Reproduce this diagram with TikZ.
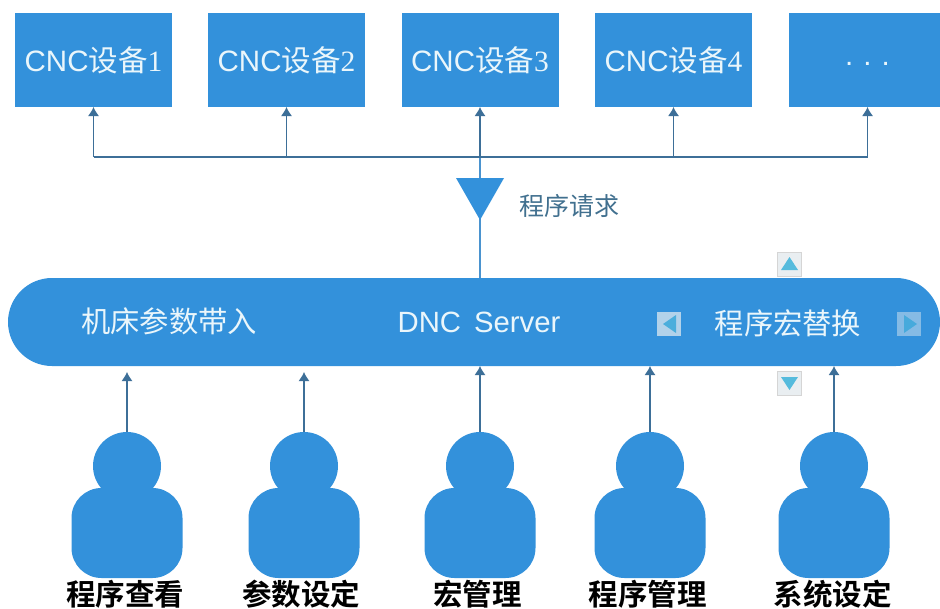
\documentclass[tikz,border=0pt]{standalone}
\usepackage{fontspec}
\setmainfont{Liberation Sans}
\newfontfamily\cjk{Noto Sans CJK SC}
\newfontfamily\cjkb{Noto Sans CJK SC}[BoldFont={Noto Sans CJK SC Bold}]
\newfontfamily\dig{Liberation Serif}
\usetikzlibrary{arrows.meta}
\definecolor{boxblue}{HTML}{3391DB}
\definecolor{linecol}{HTML}{3D6F98}
\definecolor{lightline}{HTML}{4A93CF}
\definecolor{paletext}{HTML}{EAF6FB}
\definecolor{labelcol}{HTML}{41708F}
\definecolor{btnface}{HTML}{E9EEF1}
\definecolor{btnedge}{HTML}{D5D5D5}
\definecolor{btntri}{HTML}{55BBDD}
\tikzset{
  x=1pt,y=-1pt,
  device/.style={fill=boxblue,draw=none,minimum width=157pt,minimum height=94pt,inner sep=0pt,outer sep=0pt,text=paletext,font=\fontsize{29.5}{31}\selectfont},
  server/.style={fill=boxblue,draw=none,minimum width=932pt,minimum height=88pt,rounded corners=44pt,inner sep=0pt,outer sep=0pt},
  head/.style={circle,fill=boxblue,minimum size=68pt,inner sep=0pt,outer sep=0pt},
  body/.style={fill=boxblue,rounded corners=30pt,minimum width=111pt,minimum height=90pt,inner sep=0pt,outer sep=0pt},
  funnel/.style={fill=boxblue,draw=none},
  bus/.style={draw=linecol,line width=1.1pt},
  feed/.style={draw=linecol,line width=1.1pt,-{Latex[length=9pt,width=11pt]}},
  stem/.style={draw=lightline,line width=1.1pt},
  srvtext/.style={text=paletext,inner sep=0pt,font=\fontsize{29.3}{31}\selectfont},
  person/.style={text=black,inner sep=0pt,font=\cjkb\bfseries\fontsize{29.5}{31}\selectfont},
  btn/.style={fill=btnface,draw=btnedge,line width=0.8pt,minimum size=24pt,inner sep=0pt},
}
\begin{document}
\begin{tikzpicture}
\useasboundingbox (0,0) rectangle (940,608);
\clip (0,0) rectangle (940,608);
\fill[white] (0,0) rectangle (940,608);
% devices
\node[device] (d1) at (93.5,60) {CNC{\cjk 设备}{\dig 1}};
\node[device] (d2) at (286.5,60) {CNC{\cjk 设备}{\dig 2}};
\node[device] (d3) at (480,60) {CNC{\cjk 设备}{\dig 3}};
\node[device] (d4) at (673.5,60) {CNC{\cjk 设备}{\dig 4}};
\node[device,anchor=north,inner sep=0pt] (d5) at (867.5,13) {\raisebox{-10pt}{.\hspace{10pt}.\hspace{10pt}.}};
% server
\node[server] (srv) at (474,322) {};
\node[srvtext] (t1) at (169,321) {\cjk 机床参数带入};
\node[srvtext] (t2) at (479,322) {DNC\hspace{13pt}Server};
\node[srvtext] (t3) at (788,323) {\cjk 程序宏替换};
% buses
\coordinate (b1) at (93.5,157);
\coordinate (b2) at (286.5,157);
\coordinate (b3) at (480,157);
\coordinate (b4) at (673.5,157);
\coordinate (b5) at (867.5,157);
\coordinate (stemEnd) at (480,278);
\draw[stem] (b3) -- (stemEnd);
\draw[bus] (b1) -- (b5);
\foreach \i in {1,...,5} {\draw[feed] (b\i) -- (d\i.south);}
\node[inner sep=0pt,text=labelcol,font=\cjk\fontsize{25}{27}\selectfont] (req) at (569.5,206) {程序请求};
\fill[funnel] (456,178) -- (504,178) -- (480,220) -- cycle;
% persons
\foreach \n/\x/\y/\tip/\lx/\lab in {p1/127/466/372/125/程序查看,p2/304/466/372/301/参数设定,p3/480/466/366/477.5/宏管理,p4/650/466/366/647.5/程序管理,p5/834/466/366/832.5/系统设定}{
  \node[body] (\n b) at (\x,533) {};
  \node[head] (\n) at (\x,\y) {};
  \coordinate (\n t) at (\x,\tip);
  \draw[feed] (\n.north) -- (\n t);
  \node[person,anchor=south] (\n l) at (\lx,608) {\lab};
}
% buttons
\node[btn] (up) at (789.5,264) {};
\fill[btntri] (781,270) -- (798,270) -- (789.5,257) -- cycle;
\node[btn] (down) at (789.5,383) {};
\fill[btntri] (781,377) -- (798,377) -- (789.5,390) -- cycle;
\node[btn,fill=btnface!70!boxblue,draw=none] (left) at (669,324) {};
\fill[btntri!70!boxblue] (676,315) -- (676,333) -- (663,324) -- cycle;
\node[btn,fill=btnface!45!boxblue,draw=none] (right) at (909,324) {};
\fill[btntri!60!boxblue] (904,315) -- (904,333) -- (917,324) -- cycle;
\end{tikzpicture}
\end{document}
